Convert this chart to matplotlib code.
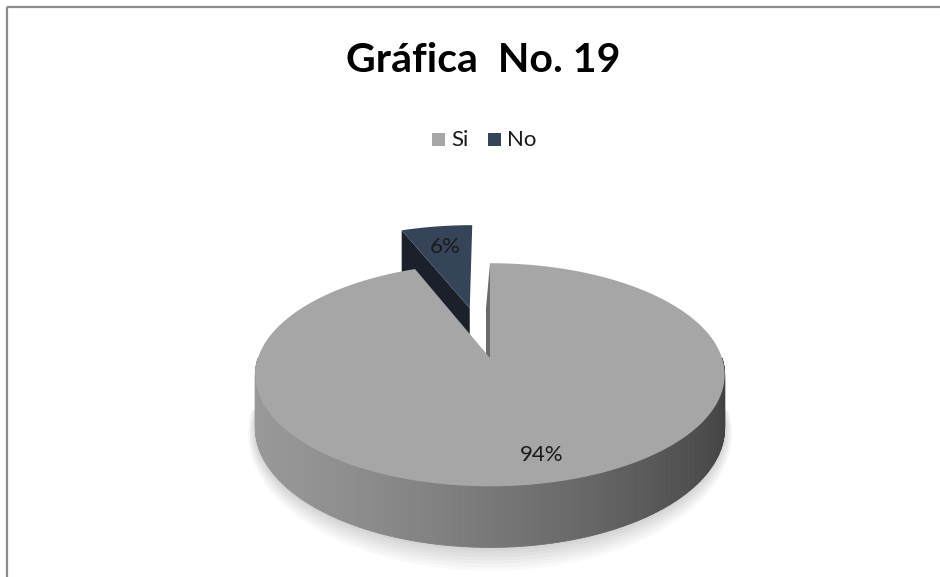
import numpy as np
from matplotlib import pyplot as plt
from matplotlib.patches import Polygon, Rectangle

labels = ['Si', 'No']
values = [94, 6]
colors_top = ['#a6a6a6', '#364459']
colors_cut = ['#5a5a5a', '#1b202b']
explode = [0.0, 0.5]
title = 'Gráfica  No. 19'

W, H = 940, 577
cx, cy = 490, 358        # centre of the top face, pixels
rx, ry = 232, 109        # radii of the tilted disc
depth = 52               # thickness of the disc
persp = 0.15             # how much the back shrinks
FONT = 'Lato'


def project(u, v, z=0.0, du=0.0, dv=0.0):
    """Map a point of the unit disc (u right, v back, z down) to pixels."""
    u = u + du
    v = v + dv
    s = 1.0 / (1.0 + persp * v)
    return cx + rx * u * s, cy - ry * v * s + depth * z * s


def arc(a0, a1, n=200):
    t = np.radians(np.linspace(a0, a1, n))
    return np.cos(t), np.sin(t)


fig = plt.figure(figsize=(W / 100, H / 100), dpi=100)
ax = fig.add_axes([0, 0, 1, 1])
ax.set_xlim(0, W)
ax.set_ylim(H, 0)
ax.axis('off')

# chart frame
ax.add_patch(Rectangle((7, 7), W + 20, H + 20, fill=False, ec='#8c8c8c', lw=1.6))

# slice angles, clockwise from 12 o'clock (math angles)
total = float(sum(values))
starts, ends = [], []
a = 90.0
for val in values:
    starts.append(a)
    a -= 360.0 * val / total
    ends.append(a)

# soft shadow under the disc
for k in range(8):
    u, v = arc(180, 360)
    xs, ys = project(u * (1 + 0.004 * k), v * (1 + 0.02 * k), 1.0)
    pts = list(zip(xs, ys)) + [project(1, 0, 1.0)]
    ax.add_patch(Polygon(pts, closed=True, fc='#000000', alpha=0.025, ec='none', zorder=1))

# "No" slice, pulled out towards the back
i = 1
mid = np.radians((starts[i] + ends[i]) / 2)
du, dv = explode[i] * np.cos(mid), explode[i] * np.sin(mid)
us, vs = np.cos(np.radians(starts[i])), np.sin(np.radians(starts[i]))
# left cut face, the one turned towards the viewer
face = [project(0, 0, 0, du, dv), project(us, vs, 0, du, dv),
        project(us, vs, 1, du, dv), project(0, 0, 1, du, dv)]
ax.add_patch(Polygon(face, closed=True, fc=colors_cut[i], ec='none', zorder=2))
u, v = arc(starts[i], ends[i])
xs, ys = project(u, v, 0, du, dv)
top = [project(0, 0, 0, du, dv)] + list(zip(xs, ys))
ax.add_patch(Polygon(top, closed=True, fc=colors_top[i], ec='none', zorder=3))
lx, ly = project(0.72 * np.cos(mid), 0.72 * np.sin(mid), 0, du, dv)
ax.text(lx, ly, f'{values[i]}%', ha='center', va='center', fontsize=16,
        family=FONT, color='#1a1a1a', zorder=6)

# "Si" slice: front wall shaded from left to right
i = 0
u, v = arc(180, 360, 240)
for k in range(len(u) - 1):
    x0, y0 = project(u[k], v[k], 0)
    x1, y1 = project(u[k + 1], v[k + 1], 0)
    x2, y2 = project(u[k + 1], v[k + 1], 1)
    x3, y3 = project(u[k], v[k], 1)
    f = (u[k] + 1) / 2
    g = 0.60 - 0.34 * f ** 1.4
    ax.add_patch(Polygon([(x0, y0), (x1, y1), (x2, y2), (x3, y3)], closed=True,
                         fc=(g, g, g), ec=(g, g, g), lw=0.6, zorder=4))

# thin cut face at 12 o'clock
strip = [project(0, 0, 0), project(0, 1, 0), project(0, 1, 1), project(0, 0, 1)]
strip = [(x - 4 * (j in (2, 3)), y) for j, (x, y) in enumerate(strip)]
ax.add_patch(Polygon(strip, closed=True, fc='#6b6b6b', ec='none', zorder=4))

u, v = arc(starts[i], ends[i], 400)
xs, ys = project(u, v, 0)
top = [project(0, 0, 0)] + list(zip(xs, ys))
ax.add_patch(Polygon(top, closed=True, fc=colors_top[i], ec='none', zorder=5))
mid = np.radians((starts[i] + ends[i]) / 2)
lx, ly = project(0.8 * np.cos(mid), 0.8 * np.sin(mid), 0)
ax.text(lx + 12, ly, f'{values[i]}%', ha='center', va='center', fontsize=16,
        family=FONT, color='#1a1a1a', zorder=6)

# title and legend
ax.text(483, 60, title, ha='center', va='center', fontsize=29.5,
        family=FONT, weight='bold', color='#000000')
lx0 = 432
for lab, col in zip(labels, colors_top):
    ax.add_patch(Rectangle((lx0, 133), 13, 13, fc=col, ec='none'))
    ax.text(lx0 + 19, 140, lab, ha='left', va='center', fontsize=16,
            family=FONT, color='#1a1a1a')
    lx0 += 56

fig.savefig('out.png', dpi=100)
